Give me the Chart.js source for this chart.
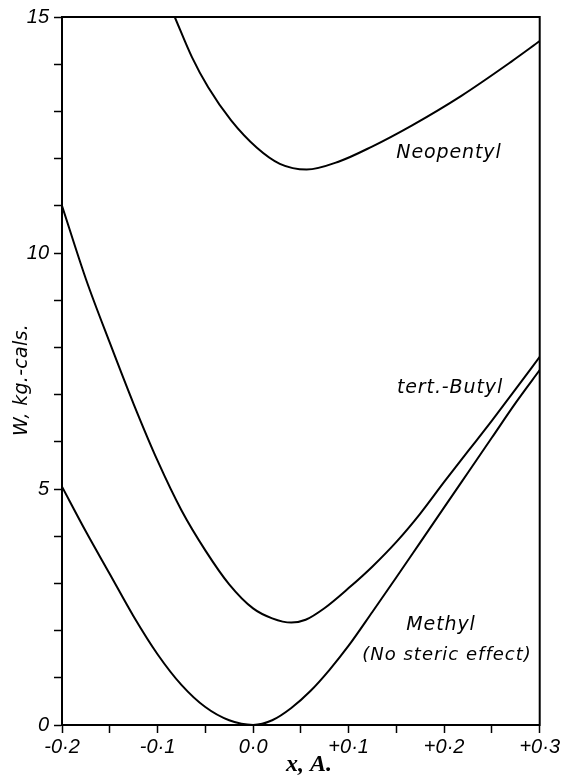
<!DOCTYPE html>
<html>
<head>
<meta charset="utf-8">
<title>W against x</title>
<script src="https://cdn.jsdelivr.net/npm/chart.js@4.4.0/dist/chart.umd.min.js"></script>
<style>
    body { margin: 0; background: #fff; }
    canvas { display: block; }
</style>
</head>
<body>
<canvas id="wChart" width="562" height="777"></canvas>
<script>
// values, x in A., W in kg.-cals.
const neopentylX = [-0.082, -0.064, -0.047, -0.023, 0.004, 0.028, 0.056, 0.090, 0.124, 0.166, 0.218, 0.270, 0.300];
const neopentylW = [15.0, 14.15, 13.51, 12.81, 12.23, 11.89, 11.77, 11.94, 12.25, 12.70, 13.33, 14.05, 14.49];

const butylX = [-0.200, -0.175, -0.150, -0.125, -0.100, -0.075, -0.050, -0.025, 0.000, 0.020, 0.040, 0.055, 0.075, 0.100, 0.125, 0.150, 0.175, 0.200, 0.225, 0.250, 0.275, 0.300];
const butylW = [11.0, 9.45, 8.10, 6.80, 5.60, 4.55, 3.70, 2.98, 2.47, 2.26, 2.17, 2.23, 2.48, 2.90, 3.36, 3.88, 4.48, 5.15, 5.80, 6.45, 7.12, 7.80];

const methylX = [-0.200, -0.175, -0.150, -0.125, -0.100, -0.075, -0.050, -0.025, 0.000, 0.020, 0.040, 0.060, 0.080, 0.100, 0.125, 0.150, 0.175, 0.200, 0.225, 0.250, 0.275, 0.300];
const methylW = [5.05, 4.10, 3.20, 2.30, 1.50, 0.85, 0.38, 0.10, 0.0, 0.10, 0.36, 0.72, 1.17, 1.68, 2.40, 3.13, 3.87, 4.61, 5.35, 6.09, 6.83, 7.52];

const xTickLabels = ['-0·2', '-0·1', '0·0', '+0·1', '+0·2', '+0·3'];
const yTickLabels = ['0', '5', '10', '15'];

function toPoints(xs, ws) {
    return xs.map((x, i) => ({ x: x, y: ws[i] }));
}

// frame round the plot, curve names and axis titles
const platePlugin = {
    id: 'plate',
    afterDraw(chart) {
        let ctx = chart.ctx;
        let a = chart.chartArea;
        ctx.save();
        ctx.strokeStyle = '#000';
        ctx.lineWidth = 2;
        ctx.strokeRect(a.left, a.top, a.right - a.left, a.bottom - a.top);

        ctx.fillStyle = '#000';
        ctx.textAlign = 'center';
        ctx.textBaseline = 'middle';
        ctx.font = 'italic 19px "DejaVu Sans"';
        ctx.letterSpacing = '0.9px';
        ctx.fillText('Neopentyl', 449, 153);
        ctx.fillText('tert.-Butyl', 450, 388);
        ctx.fillText('Methyl', 441, 625);
        ctx.font = 'italic 18px "DejaVu Sans"';
        ctx.letterSpacing = '1px';
        ctx.fillText('(No steric effect)', 447, 655);

        ctx.letterSpacing = '0px';
        ctx.font = 'italic bold 24px "Liberation Serif"';
        ctx.fillText('x, A.', 309, 765);

        ctx.translate(22, 380);
        ctx.rotate(-Math.PI / 2);
        ctx.font = 'italic 19px "DejaVu Sans"';
        ctx.letterSpacing = '0.3px';
        ctx.fillText('W, kg.-cals.', 0, 0);
        ctx.restore();
    }
};

let ctx = document.getElementById('wChart').getContext('2d');

new Chart(ctx, {
    type: 'line',
    data: {
        datasets: [{
            label: 'Neopentyl',
            data: toPoints(neopentylX, neopentylW),
            borderColor: '#000',
            borderWidth: 2,
            pointRadius: 0,
            cubicInterpolationMode: 'monotone'
        }, {
            label: 'tert.-Butyl',
            data: toPoints(butylX, butylW),
            borderColor: '#000',
            borderWidth: 2,
            pointRadius: 0,
            cubicInterpolationMode: 'monotone'
        }, {
            label: 'Methyl',
            data: toPoints(methylX, methylW),
            borderColor: '#000',
            borderWidth: 2,
            pointRadius: 0,
            cubicInterpolationMode: 'monotone'
        }]
    },
    options: {
        responsive: false,
        animation: false,
        layout: {
            padding: { top: 16, right: 19, left: 0, bottom: 0 }
        },
        plugins: {
            legend: { display: false },
            tooltip: { enabled: false }
        },
        scales: {
            x: {
                type: 'linear',
                min: -0.2,
                max: 0.3,
                afterFit: function(scale) { scale.height = 52; },
                border: { display: true, color: '#000', width: 2 },
                grid: {
                    drawOnChartArea: false,
                    tickLength: 8,
                    tickColor: '#000',
                    tickWidth: 1.5
                },
                ticks: {
                    stepSize: 0.05,
                    autoSkip: false,
                    maxRotation: 0,
                    padding: 2,
                    color: '#000',
                    font: { family: 'Liberation Sans', style: 'italic', size: 20 },
                    callback: function(value) {
                        let k = Math.round(value * 20);
                        if (k % 2 !== 0) return '';
                        return xTickLabels[(k + 4) / 2];
                    }
                }
            },
            y: {
                min: 0,
                max: 15,
                afterFit: function(scale) { scale.width = 62; },
                border: { display: true, color: '#000', width: 2 },
                grid: {
                    drawOnChartArea: false,
                    tickLength: 8,
                    tickColor: '#000',
                    tickWidth: 1.5
                },
                ticks: {
                    stepSize: 1,
                    padding: 5,
                    color: '#000',
                    font: { family: 'Liberation Sans', style: 'italic', size: 20 },
                    callback: function(value) {
                        let v = Math.round(value);
                        if (v % 5 !== 0) return '';
                        return yTickLabels[v / 5];
                    }
                }
            }
        }
    },
    plugins: [platePlugin]
});
</script>
</body>
</html>
